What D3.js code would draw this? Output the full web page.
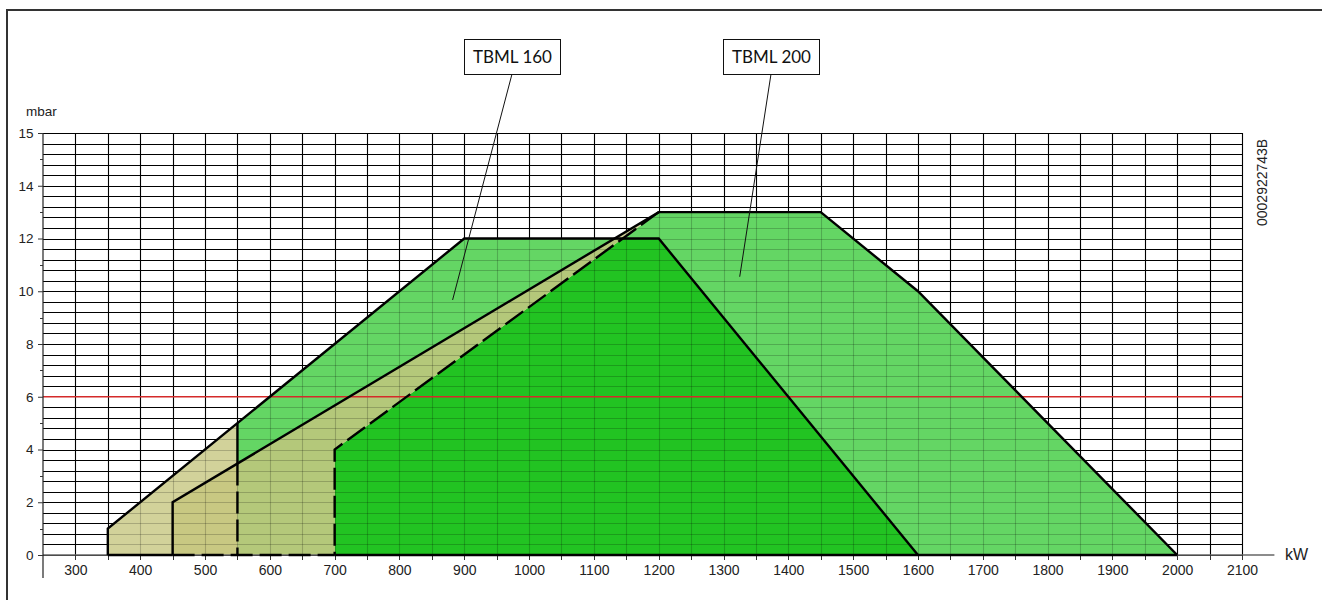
<!DOCTYPE html>
<html>
<head>
<meta charset="utf-8">
<script src="https://cdn.jsdelivr.net/npm/d3@7"></script>
<style>
  html, body { margin: 0; padding: 0; background: #fff; overflow: hidden; }
  svg { display: block; }
  .sans { font-family: Arial, "Liberation Sans", Helvetica, sans-serif; }
</style>
</head>
<body>
<svg id="chart" width="1322" height="600"></svg>
<script>
// ---------------- DATA ----------------
const xTickValues = [300, 400, 500, 600, 700, 800, 900, 1000, 1100, 1200, 1300, 1400, 1500, 1600, 1700, 1800, 1900, 2000, 2100];
const yTickValues = [0, 2, 4, 6, 8, 10, 12, 14, 16];
const yTickLabels = ["0", "2", "4", "6", "8", "10", "12", "14", "15"];
const yMinorTicks = [1, 3, 5, 7, 9, 11, 13, 15];
const refPressure = 6; // red reference line (mbar)

// TBML 160 working field: start zone (left of min modulation) and modulating zone
const tbml160Start = [[350, 0], [350, 1], [550, 5], [550, 0]];
const tbml160Mod   = [[550, 0], [550, 5], [900, 12], [1200, 12], [1600, 0]];
const tbml160Outline = [[350, 0], [350, 1], [900, 12], [1200, 12], [1600, 0]];

// TBML 200 working field
const tbml200Start = [[450, 0], [450, 2], [1200, 13], [700, 4], [700, 0]];
const tbml200Mod   = [[700, 0], [700, 4], [1200, 13], [1450, 13], [1600, 10], [2000, 0]];
const tbml200Outline = [[450, 0], [450, 2], [1200, 13], [1450, 13], [1600, 10], [2000, 0]];

// dashed min-modulation boundaries
const dashed160 = [[550, 0], [550, 5]];
const dashed200 = [[700, 0], [700, 4], [1200, 13]];
const dashedBottom = [[450, 0], [700, 0]];
const solidBottomA = [[350, 0], [450, 0]];
const solidBottomB = [[700, 0], [2000, 0]];

const labels = ["TBML 160", "TBML 200"];
const labelTargets = [[882, 9.67], [1325, 10.55]];
const docCode = "0002922743B";

// ---------------- LAYOUT ----------------
const svg = d3.select("#chart");
const x = d3.scaleLinear().domain([250, 2150]).range([43, 1274.4]);
const y = d3.scaleLinear().domain([0, 16]).range([555, 133]);
const gridXMax = 2100, gridYMax = 16;

const colors = {
  lightGreen: "#64d664",
  darkGreen: "#22c322",
  tan: "#d2d29a",
  tanDark: "#c8c882",
  olive: "#b4c87a"
};

const line = d3.line().x(d => x(d[0])).y(d => y(d[1]));
const poly = pts => line(pts) + "Z";

// frame (top and left edges visible; the rest lies outside the picture)
svg.append("path").attr("d", "M7,640 V10 H1400")
  .attr("fill", "none").attr("stroke", "#333").attr("stroke-width", 2);

const defs = svg.append("defs");
defs.append("clipPath").attr("id", "clip200mod").append("path").attr("d", poly(tbml200Mod));
defs.append("clipPath").attr("id", "clip200start").append("path").attr("d", poly(tbml200Start));
defs.append("clipPath").attr("id", "clip160mod").append("path").attr("d", poly(tbml160Mod));

const vGrid = d3.range(300, gridXMax + 1, 50);
const hGrid = d3.range(0, 41).map(i => i * 0.4).filter(v => Math.abs(v - refPressure) > 1e-6);

function drawGrid(g, opacity) {
  g.selectAll("line.v").data(vGrid).join("line").attr("class", "v")
    .attr("x1", d => Math.round(x(d)) + 0.5).attr("x2", d => Math.round(x(d)) + 0.5)
    .attr("y1", y(0)).attr("y2", y(gridYMax))
    .attr("stroke", "#000").attr("stroke-opacity", opacity).attr("stroke-width", 1.1);
  g.selectAll("line.h").data(hGrid).join("line").attr("class", "h")
    .attr("x1", x(250)).attr("x2", x(gridXMax))
    .attr("y1", d => Math.round(y(d)) + 0.5).attr("y2", d => Math.round(y(d)) + 0.5)
    .attr("stroke", "#000").attr("stroke-opacity", opacity).attr("stroke-width", 1.1);
}

drawGrid(svg.append("g"), 1);

// fills
const fills = svg.append("g");
fills.append("path").attr("d", poly(tbml160Mod)).attr("fill", colors.lightGreen);
fills.append("path").attr("d", poly(tbml200Mod)).attr("fill", colors.lightGreen);
fills.append("path").attr("d", poly(tbml160Mod)).attr("fill", colors.darkGreen).attr("clip-path", "url(#clip200mod)");
fills.append("path").attr("d", poly(tbml160Start)).attr("fill", colors.tan);
fills.append("path").attr("d", poly(tbml200Start)).attr("fill", colors.tan);
fills.append("path").attr("d", poly(tbml160Start)).attr("fill", colors.tanDark).attr("clip-path", "url(#clip200start)");
fills.append("path").attr("d", poly(tbml200Start)).attr("fill", colors.olive).attr("clip-path", "url(#clip160mod)");

drawGrid(svg.append("g"), 0.2);

// red reference line
svg.append("line").attr("x1", x(250)).attr("x2", x(gridXMax))
  .attr("y1", y(refPressure)).attr("y2", y(refPressure))
  .attr("stroke", "#d42a2a").attr("stroke-width", 1.3);

// axes
svg.append("line").attr("x1", x(250)).attr("x2", x(2150)).attr("y1", y(0)).attr("y2", y(0))
  .attr("stroke", "#666").attr("stroke-width", 1.6);
svg.append("line").attr("x1", x(250)).attr("x2", x(250)).attr("y1", y(16)).attr("y2", 578)
  .attr("stroke", "#222").attr("stroke-width", 1.2);

// x ticks every 50 (small), labels every 100
svg.append("g").selectAll("line").data(vGrid).join("line")
  .attr("x1", d => Math.round(x(d)) + 0.5).attr("x2", d => Math.round(x(d)) + 0.5)
  .attr("y1", y(0)).attr("y2", y(0) + 5).attr("stroke", "#333");

const xAxis = d3.axisBottom(x).tickValues(xTickValues).tickFormat(d3.format("d")).tickSize(0).tickPadding(0);
const gx = svg.append("g").attr("transform", `translate(0,${y(0)})`).call(xAxis);
gx.select(".domain").remove();
gx.attr("font-family", null).attr("font-size", null);
gx.selectAll("text").attr("class", "sans").attr("y", 10).attr("dy", "0.71em")
  .style("font-size", "14px").attr("fill", "#222");

const yAxis = d3.axisLeft(y).tickValues(yTickValues).tickFormat((d, i) => yTickLabels[i]).tickSize(5).tickPadding(4.5);
const gy = svg.append("g").attr("transform", `translate(${x(250)},0)`).call(yAxis);
gy.select(".domain").remove();
gy.attr("font-family", null).attr("font-size", null);
gy.selectAll("line").attr("stroke", "#333");
gy.selectAll("text").attr("class", "sans").style("font-size", "13.5px").attr("fill", "#222");

svg.append("g").selectAll("line").data(yMinorTicks).join("line")
  .attr("x1", x(250) - 3).attr("x2", x(250))
  .attr("y1", d => Math.round(y(d)) + 0.5).attr("y2", d => Math.round(y(d)) + 0.5)
  .attr("stroke", "#333");

svg.append("text").attr("class", "sans").attr("x", 26).attr("y", 116).text("mbar")
  .style("font-size", "13.5px").attr("fill", "#222");
svg.append("text").attr("class", "sans").attr("x", 1285).attr("y", 560).text("kW")
  .style("font-size", "16px").attr("fill", "#222");
svg.append("text").attr("class", "sans").attr("transform", "translate(1267,226) rotate(-90)").text(docCode)
  .style("font-size", "14px").attr("fill", "#222");

// outlines
const outl = svg.append("g").attr("fill", "none").attr("stroke", "#000").attr("stroke-width", 2.4).attr("stroke-linejoin", "miter");
outl.append("path").attr("d", line(tbml160Outline));
outl.append("path").attr("d", line(tbml200Outline));
outl.append("path").attr("d", line(solidBottomA));
outl.append("path").attr("d", line(solidBottomB));
// solid upper part of the 550 kW boundary (above the TBML 200 envelope)
const l200 = d3.scaleLinear().domain([tbml200Outline[1][0], tbml200Outline[2][0]]).range([tbml200Outline[1][1], tbml200Outline[2][1]]);
const cut = l200(dashed160[0][0]);
outl.append("path").attr("d", line([[dashed160[1][0], dashed160[1][1]], [dashed160[0][0], cut]]));
outl.append("path").attr("d", line([[dashed160[0][0], cut], dashed160[0]])).attr("stroke-dasharray", "22,6");
outl.append("path").attr("d", line(dashed200.slice().reverse())).attr("stroke-dasharray", "22,6");
outl.append("path").attr("d", line(dashedBottom)).attr("stroke-dasharray", "22,7");

// label boxes
const boxes = [{ x: 464, y: 39 }, { x: 723, y: 39 }];
const bw = 96, bh = 35;
labels.forEach((lab, i) => {
  const b = boxes[i];
  svg.append("line").attr("x1", b.x + bw / 2).attr("y1", b.y + bh)
    .attr("x2", x(labelTargets[i][0])).attr("y2", y(labelTargets[i][1]))
    .attr("stroke", "#111").attr("stroke-width", 1);
  svg.append("rect").attr("x", b.x + 0.5).attr("y", b.y + 0.5).attr("width", bw).attr("height", bh)
    .attr("fill", "#fff").attr("stroke", "#111").attr("stroke-width", 1);
  svg.append("text").attr("x", b.x + bw / 2 + 0.5).attr("y", b.y + bh / 2 + 6.5).attr("text-anchor", "middle")
    .text(lab).style("font-family", "Lato, 'Open Sans', sans-serif").style("font-size", "17px").attr("fill", "#111");
});
</script>
</body>
</html>
